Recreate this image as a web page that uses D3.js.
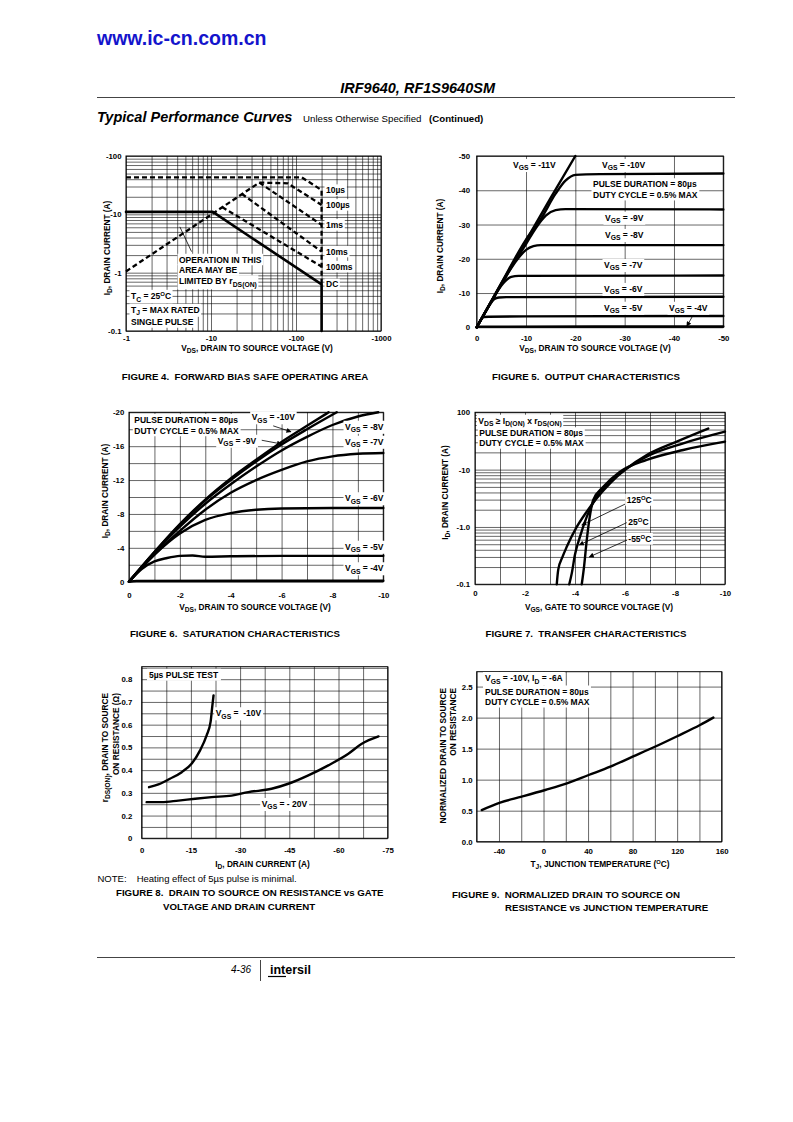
<!DOCTYPE html>
<html><head><meta charset="utf-8">
<script src="https://cdn.jsdelivr.net/npm/d3@7"></script>
<style>body{margin:0;background:#fff} text{white-space:pre}</style>
</head><body><script>
// ---------- DATA ----------
// Figure 4: Forward bias SOA (|VDS| V, |ID| A)
const fig4XTicks=[1,10,100,1000], fig4XLabels=["-1","-10","-100","-1000"];
const fig4YTicks=[0.1,1,10,100], fig4YLabels=["-0.1","-1","-10","-100"];
const fig4DC=[[1,11],[10.5,11],[200,0.63],[200,0.1]];
const fig4Rds=[[1,1.05],[37,35]];
const fig4T10us=[[1,43],[117,43],[200,26],[200,0.63]];
const fig4T100us=[[37,35],[80,34],[200,14.5]];
const fig4T1ms=[[37,35],[200,6.6]];
const fig4T10ms=[[23,22.5],[200,2.3]];
const fig4T100ms=[[13.5,13.3],[200,1.27]];
const fig4Names=["10µs","100µs","1ms","10ms","100ms","DC"];

// Figure 5: Output characteristics (|VDS|, |ID|)
const fig5Ticks=[0,10,20,30,40,50], fig5Labels=["0","-10","-20","-30","-40","-50"];
const fig5V11=[[0,0],[5,12.8],[10,25.3],[15,37.8],[20,50]];
const fig5V10=[[0,0],[5,12.9],[10,25.6],[13,31.6],[16,39],[18,42.8],[20,44.5],[25,44.7],[50,44.9]];
const fig5V9=[[0,0],[5,12.6],[8,19.8],[10,24.3],[12,29],[14,32.6],[16,34.2],[18,34.5],[50,34.4]];
const fig5V8=[[0,0],[5,12.5],[7,17.3],[8.5,20.3],[10,22.6],[11.5,23.7],[13,24],[50,24]];
const fig5V7=[[0,0],[3,7.6],[4,10],[5,12.2],[6,13.8],[7,14.7],[8.5,15],[50,15.1]];
const fig5V6=[[0,0],[2,5],[3,7.3],[3.6,8.3],[4.5,8.7],[6,8.8],[50,8.9]];
const fig5V5=[[0,0],[1,2.5],[1.4,3.0],[2.5,3.1],[10,3.2],[50,3.3]];
const fig5V4=[[0,0],[0.4,0.2],[50,0.25]];

// Figure 6: Saturation characteristics
const fig6XTicks=[0,2,4,6,8,10], fig6XLabels=["0","-2","-4","-6","-8","-10"];
const fig6YTicks=[0,4,8,12,16,20], fig6YLabels=["0","-4","-8","-12","-16","-20"];
const fig6V10=[[0,0],[1,3.5],[2,6.8],[3,9.7],[4,12.2],[5,14.4],[6,16.5],[7,18.4],[7.85,20]];
const fig6V9=[[0,0],[1,3.5],[2,6.7],[3,9.6],[4,12.0],[5,14.2],[6,16.2],[7,18.0],[8.17,20]];
const fig6V8=[[0,0],[1,3.4],[2,6.5],[3,9.2],[4,11.5],[5,13.6],[6,15.5],[7,17.1],[8,18.5],[9,19.5],[9.8,20]];
const fig6V7=[[0,0],[1,3.2],[2,6.0],[3,8.5],[4,10.5],[5,12.0],[6,13.2],[7,14.2],[8,14.8],[9,15.1],[10,15.2]];
const fig6V6=[[0,0],[0.5,1.7],[1,3.2],[2,5.7],[3,7.3],[4,8.1],[5,8.5],[6,8.65],[8,8.7],[10,8.7]];
const fig6V5=[[0,0],[0.5,1.5],[1,2.4],[1.5,2.8],[2,3.05],[2.5,3.1],[3,2.95],[4,3.0],[6,3.05],[10,3.05]];
const fig6V4=[[0,0],[0.3,0.1],[10,0.12]];

// Figure 7: Transfer characteristics (|VGS|, |ID|)
const fig7XTicks=[0,2,4,6,8,10], fig7XLabels=["0","-2","-4","-6","-8","-10"];
const fig7YTicks=[0.1,1,10,100], fig7YLabels=["-0.1","-1.0","-10","100"];
const fig7T125=[[3.27,0.1],[3.33,0.18],[3.5,0.3],[3.67,0.45],[4.07,1.0],[4.47,1.85],[4.87,3.16],[5.4,5.75],[6.07,10.5],[6.87,18],[8.07,30.8],[9.33,52]];
const fig7T25=[[3.77,0.1],[3.87,0.155],[4.0,0.33],[4.2,0.68],[4.47,1.5],[4.87,3.4],[5.4,6.2],[6.07,10.5],[7.0,18],[8.33,28.8],[10,45.9]];
const fig7Tm55=[[4.27,0.1],[4.36,0.2],[4.47,0.59],[4.57,1.32],[4.73,2.95],[5.13,5],[5.8,9.2],[6.87,14.8],[8.33,22],[10,30.8]];

// Figure 8: rDS(on) vs ID
const fig8XTicks=[0,15,30,45,60,75], fig8XLabels=["0","-15","-30","-45","-60","-75"];
const fig8YTicks=[0.1,0.2,0.3,0.4,0.5,0.6,0.7,0.8], fig8YLabels=["0","0.2","0.3","0.4","0.5","0.6","0.7","0.8"];
const fig8V10=[[2.24,0.325],[5.1,0.337],[8.6,0.362],[12.2,0.391],[15.2,0.428],[17.8,0.487],[19.8,0.553],[21.0,0.612],[21.5,0.678],[21.9,0.729]];
const fig8V20=[[1.5,0.259],[6.1,0.259],[11.2,0.266],[16.3,0.274],[21.3,0.281],[27.4,0.288],[32.5,0.303],[39.6,0.318],[44.7,0.340],[50.8,0.377],[56.9,0.421],[63.0,0.472],[67.1,0.516],[72.2,0.548]];

// Figure 9: normalized rDS(on) vs TJ
const fig9XTicks=[-40,0,40,80,120,160], fig9XLabels=["-40","0","40","80","120","160"];
const fig9YTicks=[0,0.5,1,1.5,2,2.5], fig9YLabels=["0.0","0.5","1.0","1.5","2.0","2.5"];
const fig9Curve=[[-55.5,0.51],[-39,0.63],[-19.5,0.726],[1.5,0.833],[21,0.94],[40.5,1.075],[60,1.21],[80,1.37],[100,1.53],[120,1.70],[140.5,1.88],[152.5,2.0]];

// ---------- HELPERS ----------
const FONT='"Liberation Sans", Arial, Helvetica, sans-serif';
const svg=d3.select('body').append('svg').attr('width',793).attr('height',1122).style('display','block');
const defs=svg.append('defs');
defs.append('marker').attr('id','arrow').attr('viewBox','0 0 10 10').attr('refX',9).attr('refY',5)
  .attr('markerWidth',6).attr('markerHeight',5).attr('markerUnits','userSpaceOnUse').attr('orient','auto')
  .append('path').attr('d','M0,0L10,5L0,10z').attr('fill','#000');

function rich(t,str,size){
  const parts=str.split(/(_\{[^}]*\}|\^\{[^}]*\})/).filter(s=>s.length);
  let shift=0;
  parts.forEach(p=>{
    let s=p,dy=0,fs=null;
    if(p.startsWith('_{')){s=p.slice(2,-1);dy=size*0.3;fs=size*0.8;}
    else if(p.startsWith('^{')){s=p.slice(2,-1);dy=-size*0.4;fs=size*0.7;}
    const ts=t.append('tspan').text(s).attr('dy',dy-shift);
    if(fs)ts.attr('font-size',fs);
    shift=dy;
  });
}
function txt(g,x,y,str,o={}){
  const size=o.size||8.5;
  const t=g.append('text').attr('x',x).attr('y',y).attr('font-family',FONT).attr('font-size',size)
    .attr('font-weight',o.weight||'bold').attr('text-anchor',o.anchor||'start').attr('fill',o.fill||'#000');
  if(o.italic)t.attr('font-style','italic');
  if(o.rotate)t.attr('transform',`rotate(-90,${x},${y})`);
  rich(t,str,size);
  if(o.bg){const b=t.node().getBBox();const p=o.pad==null?1.5:o.pad;
    g.insert('rect',()=>t.node()).attr('x',b.x-p).attr('y',b.y-p*0.5).attr('width',b.width+2*p).attr('height',b.height+p).attr('fill','#fff');}
  return t;
}
function grid(g,x,y,xv,yv){
  const [xa,xb]=x.range(),[ya,yb]=y.range();
  const st=s=>{s.select('.domain').remove();s.selectAll('.tick line').attr('stroke','#000').attr('stroke-width',0.6);};
  g.append('g').attr('transform',`translate(0,${ya})`).call(d3.axisBottom(x).tickValues(xv).tickSize(-(ya-yb)).tickFormat('')).call(st);
  g.append('g').attr('transform',`translate(${xa},0)`).call(d3.axisLeft(y).tickValues(yv).tickSize(-(xb-xa)).tickFormat('')).call(st);
  g.append('rect').attr('x',xa).attr('y',yb).attr('width',xb-xa).attr('height',ya-yb).attr('fill','none').attr('stroke','#000').attr('stroke-width',1);
}
function ticks(g,x,y,xv,xl,yv,yl,xBase,yRight){
  const gx=g.append('g').attr('transform',`translate(0,${xBase})`).call(d3.axisBottom(x).tickValues(xv).tickSize(0).tickPadding(0).tickFormat((d,i)=>xl[i]));
  const gy=g.append('g').attr('transform',`translate(${yRight},0)`).call(d3.axisLeft(y).tickValues(yv).tickSize(0).tickPadding(0).tickFormat((d,i)=>yl[i]));
  [gx,gy].forEach(s=>{s.select('.domain').remove();s.attr('font-family',FONT).attr('font-size',7.8).attr('font-weight','bold');s.selectAll('text').attr('fill','#000');});
  gx.selectAll('text').attr('dy',0);
  return [gx,gy];
}
function curve(g,x,y,data,o={}){
  return g.append('path').datum(data).attr('d',d3.line().x(d=>x(d[0])).y(d=>y(d[1])).curve(o.curve||d3.curveMonotoneX))
   .attr('fill','none').attr('stroke','#000').attr('stroke-width',o.w||2.4).attr('stroke-dasharray',o.dash||null)
   .attr('stroke-linejoin','round').attr('stroke-linecap',o.dash?'butt':'round');
}
function pointer(g,x1,y1,x2,y2,arrow){
  g.append('line').attr('x1',x1).attr('y1',y1).attr('x2',x2).attr('y2',y2).attr('stroke','#000').attr('stroke-width',0.8)
   .attr('marker-end',arrow?'url(#arrow)':null);
}
const CAP=9.7;

// ---------- PAGE HEADER / FOOTER ----------
const page=svg.append('g');
txt(page,97,45,"www.ic-cn.com.cn",{size:19.5,fill:'#1414cc'});
txt(page,495,93,"IRF9640, RF1S9640SM",{size:14.5,italic:true,anchor:'end'});
page.append('line').attr('x1',97).attr('x2',735).attr('y1',97.5).attr('y2',97.5).attr('stroke','#444').attr('stroke-width',1);
txt(page,97,122,"Typical Performance Curves",{size:14.5,italic:true});
txt(page,303,122,"Unless Otherwise Specified",{size:9.7,weight:'normal'});
txt(page,429,122,"(Continued)",{size:9.7});
page.append('line').attr('x1',97).attr('x2',735).attr('y1',957.5).attr('y2',957.5).attr('stroke','#444').attr('stroke-width',1);
txt(page,251,973,"4-36",{size:10,italic:true,weight:'normal',anchor:'end'});
page.append('line').attr('x1',260.5).attr('x2',260.5).attr('y1',960).attr('y2',981).attr('stroke','#444').attr('stroke-width',1);
txt(page,270,974,"intersil",{size:12.5,weight:'900'});
page.append('line').attr('x1',268).attr('x2',286).attr('y1',976.5).attr('y2',976.5).attr('stroke','#000').attr('stroke-width',1.2);

// ---------- FIGURE 4 ----------
{
  const g=svg.append('g');
  const x=d3.scaleLog().domain([1,1000]).range([126,381]);
  const y=d3.scaleLog().domain([0.1,100]).range([331,156]);
  grid(g,x,y,x.ticks(),y.ticks());
  ticks(g,x,y,fig4XTicks,fig4XLabels,fig4YTicks,fig4YLabels,340.5,121.5);
  const L={curve:d3.curveLinear};
  const D={curve:d3.curveLinear,dash:'5,3',w:2.3};
  curve(g,x,y,fig4Rds,D);
  curve(g,x,y,fig4T10us,D);
  curve(g,x,y,fig4T100us,D);
  curve(g,x,y,fig4T1ms,D);
  curve(g,x,y,fig4T10ms,D);
  curve(g,x,y,fig4T100ms,D);
  curve(g,x,y,fig4DC,Object.assign({w:2.6},L));
  const ends=[fig4T10us[2],fig4T100us[2],fig4T1ms[1],fig4T10ms[1],fig4T100ms[1],fig4DC[2]];
  ends.forEach((e,i)=>txt(g,326,y(e[1])+3,fig4Names[i],{bg:true}));
  pointer(g,x(5.9),y(2.3),x(4.3),y(6.1),false);
  txt(g,179,262.5,"OPERATION IN THIS",{bg:true});
  txt(g,179,273,"AREA MAY BE",{bg:true});
  txt(g,179,284,"LIMITED BY r_{DS(ON)}",{bg:true});
  txt(g,131,299,"T_{C} = 25^{O}C",{bg:true});
  txt(g,131,312.5,"T_{J} = MAX RATED",{bg:true});
  txt(g,131,325,"SINGLE PULSE",{bg:true});
  txt(g,109.5,248,"I_{D}, DRAIN CURRENT (A)",{size:8.3,rotate:true,anchor:'middle'});
  txt(g,257,350.5,"V_{DS}, DRAIN TO SOURCE VOLTAGE (V)",{size:8.3,anchor:'middle'});
  txt(g,245,380,"FIGURE 4.  FORWARD BIAS SAFE OPERATING AREA",{size:CAP,anchor:'middle'});
}

// ---------- FIGURE 5 ----------
{
  const g=svg.append('g');
  const x=d3.scaleLinear().domain([0,50]).range([476.7,723.3]);
  const y=d3.scaleLinear().domain([0,50]).range([327.3,156]);
  grid(g,x,y,d3.range(0,51,10),d3.range(0,51,10));
  ticks(g,x,y,fig5Ticks,fig5Labels,fig5Ticks,fig5Labels,340.5,470);
  [fig5V11,fig5V10,fig5V9,fig5V8,fig5V7,fig5V6,fig5V5,fig5V4].forEach(d=>curve(g,x,y,d));
  txt(g,513,167.7,"V_{GS} = -11V",{bg:true});
  txt(g,602,167.7,"V_{GS} = -10V",{bg:true});
  txt(g,593,187,"PULSE DURATION = 80µs",{bg:true});
  txt(g,593,197.7,"DUTY CYCLE = 0.5% MAX",{bg:true});
  txt(g,605,220.5,"V_{GS} = -9V",{bg:true});
  txt(g,605,237.7,"V_{GS} = -8V",{bg:true});
  txt(g,604,267.7,"V_{GS} = -7V",{bg:true});
  txt(g,604,291.7,"V_{GS} = -6V",{bg:true});
  txt(g,604,310.5,"V_{GS} = -5V",{bg:true});
  txt(g,669,310.5,"V_{GS} = -4V",{bg:true});
  pointer(g,x(43.9),y(3.6),x(42.6),y(0.3),true);
  txt(g,443,246,"I_{D}, DRAIN CURRENT (A)",{size:8.3,rotate:true,anchor:'middle'});
  txt(g,595,350.5,"V_{DS}, DRAIN TO SOURCE VOLTAGE (V)",{size:8.3,anchor:'middle'});
  txt(g,586,380,"FIGURE 5.  OUTPUT CHARACTERISTICS",{size:CAP,anchor:'middle'});
}

// ---------- FIGURE 6 ----------
{
  const g=svg.append('g');
  const x=d3.scaleLinear().domain([0,10]).range([129,383.3]);
  const y=d3.scaleLinear().domain([0,20]).range([581.7,412.3]);
  grid(g,x,y,d3.range(0,11,1),d3.range(0,21,2));
  ticks(g,x,y,fig6XTicks,fig6XLabels,fig6YTicks,fig6YLabels,597.5,124.3);
  txt(g,134.3,422.7,"PULSE DURATION = 80µs",{bg:true});
  txt(g,134.3,433.5,"DUTY CYCLE = 0.5% MAX",{bg:true});
  txt(g,251.7,420,"V_{GS} = -10V",{bg:true});
  txt(g,217.7,443.5,"V_{GS} = -9V",{bg:true});
  [fig6V10,fig6V9,fig6V8,fig6V7,fig6V6,fig6V5,fig6V4].forEach(d=>curve(g,x,y,d));
  pointer(g,x(5.67),y(18.4),x(6.37),y(17.7),true);
  pointer(g,x(5.22),y(16.7),x(6.0),y(16.26),true);
  txt(g,345,429.5,"V_{GS} = -8V",{bg:true});
  txt(g,345,444.5,"V_{GS} = -7V",{bg:true});
  txt(g,345,501,"V_{GS} = -6V",{bg:true});
  txt(g,345,549.5,"V_{GS} = -5V",{bg:true});
  txt(g,345,571,"V_{GS} = -4V",{bg:true});
  txt(g,108,491,"I_{D}, DRAIN CURRENT (A)",{size:8.3,rotate:true,anchor:'middle'});
  txt(g,255,609.5,"V_{DS}, DRAIN TO SOURCE VOLTAGE (V)",{size:8.3,anchor:'middle'});
  txt(g,235,637,"FIGURE 6.  SATURATION CHARACTERISTICS",{size:CAP,anchor:'middle'});
}

// ---------- FIGURE 7 ----------
{
  const g=svg.append('g');
  const x=d3.scaleLinear().domain([0,10]).range([475,725]);
  const y=d3.scaleLog().domain([0.1,100]).range([584.3,412.3]);
  grid(g,x,y,d3.range(0,11,1),y.ticks());
  ticks(g,x,y,fig7XTicks,fig7XLabels,fig7YTicks,fig7YLabels,596,470);
  txt(g,478.3,423.5,"V_{DS} ≥ I_{D(ON)} x r_{DS(ON)}",{bg:true});
  txt(g,479.3,436,"PULSE DURATION = 80µs",{bg:true});
  txt(g,479.3,446,"DUTY CYCLE = 0.5% MAX",{bg:true});
  [fig7T125,fig7T25,fig7Tm55].forEach(d=>curve(g,x,y,d));
  txt(g,626.7,503,"125^{O}C",{bg:true});
  txt(g,628.3,525,"25^{O}C",{bg:true});
  txt(g,628.3,542,"-55^{O}C",{bg:true});
  pointer(g,x(6.0),y(2.5),x(4.27),y(1.08),true);
  pointer(g,x(6.07),y(1.19),x(4.17),y(0.485),true);
  pointer(g,x(6.09),y(0.593),x(4.57),y(0.30),true);
  txt(g,448,492.5,"I_{D}, DRAIN CURRENT (A)",{size:8.3,rotate:true,anchor:'middle'});
  txt(g,599,609.5,"V_{GS}, GATE TO SOURCE VOLTAGE (V)",{size:8.3,anchor:'middle'});
  txt(g,586,637,"FIGURE 7.  TRANSFER CHARACTERISTICS",{size:CAP,anchor:'middle'});
}

// ---------- FIGURE 8 ----------
{
  const g=svg.append('g');
  const x=d3.scaleLinear().domain([0,75]).range([141.7,387.7]);
  const y=d3.scaleLinear().domain([0.1,0.855]).range([838.3,666.7]);
  grid(g,x,y,d3.range(0,76,7.5),d3.range(0.1,0.851,0.05));
  ticks(g,x,y,fig8XTicks,fig8XLabels,fig8YTicks,fig8YLabels,853,132.3);
  txt(g,149,677.7,"5µs PULSE TEST",{bg:true,pad:2});
  [fig8V10,fig8V20].forEach(d=>curve(g,x,y,d));
  txt(g,215.7,716,"V_{GS} =  -10V",{bg:true});
  txt(g,261.7,806.7,"V_{GS} = - 20V",{bg:true});
  txt(g,108,693,"r_{DS(ON)}, DRAIN TO SOURCE",{size:8.3,rotate:true,anchor:'end'});
  txt(g,118.5,693,"ON RESISTANCE (Ω)",{size:8.3,rotate:true,anchor:'end'});
  txt(g,262.5,867,"I_{D}, DRAIN CURRENT (A)",{size:8.3,anchor:'middle'});
  txt(g,97.5,881.5,"NOTE:",{size:9.5,weight:'normal'});
  txt(g,136.7,881.5,"Heating effect of 5µs pulse is minimal.",{size:9.5,weight:'normal'});
  txt(g,116,896,"FIGURE 8.  DRAIN TO SOURCE ON RESISTANCE vs GATE",{size:CAP});
  txt(g,163,909.5,"VOLTAGE AND DRAIN CURRENT",{size:CAP});
}

// ---------- FIGURE 9 ----------
{
  const g=svg.append('g');
  const x=d3.scaleLinear().domain([-60,160]).range([476.7,721.7]);
  const y=d3.scaleLinear().domain([0,2.74]).range([841.7,671.7]);
  grid(g,x,y,d3.range(-60,161,20),d3.range(0,2.51,0.5));
  ticks(g,x,y,fig9XTicks,fig9XLabels,fig9YTicks,fig9YLabels,853.5,472.7);
  curve(g,x,y,fig9Curve);
  txt(g,485,681,"V_{GS} = -10V, I_{D} = -6A",{bg:true,pad:2});
  txt(g,485,694.5,"PULSE DURATION = 80µs",{bg:true,pad:2});
  txt(g,485,704.5,"DUTY CYCLE = 0.5% MAX",{bg:true,pad:2});
  txt(g,446,688,"NORMALIZED DRAIN TO SOURCE",{size:8.3,rotate:true,anchor:'end'});
  txt(g,455.5,688,"ON RESISTANCE",{size:8.3,rotate:true,anchor:'end'});
  txt(g,600,867,"T_{J}, JUNCTION TEMPERATURE (^{O}C)",{size:8.3,anchor:'middle'});
  txt(g,452,898,"FIGURE 9.  NORMALIZED DRAIN TO SOURCE ON",{size:CAP});
  txt(g,505,910.5,"RESISTANCE vs JUNCTION TEMPERATURE",{size:CAP});
}
</script></body></html>
